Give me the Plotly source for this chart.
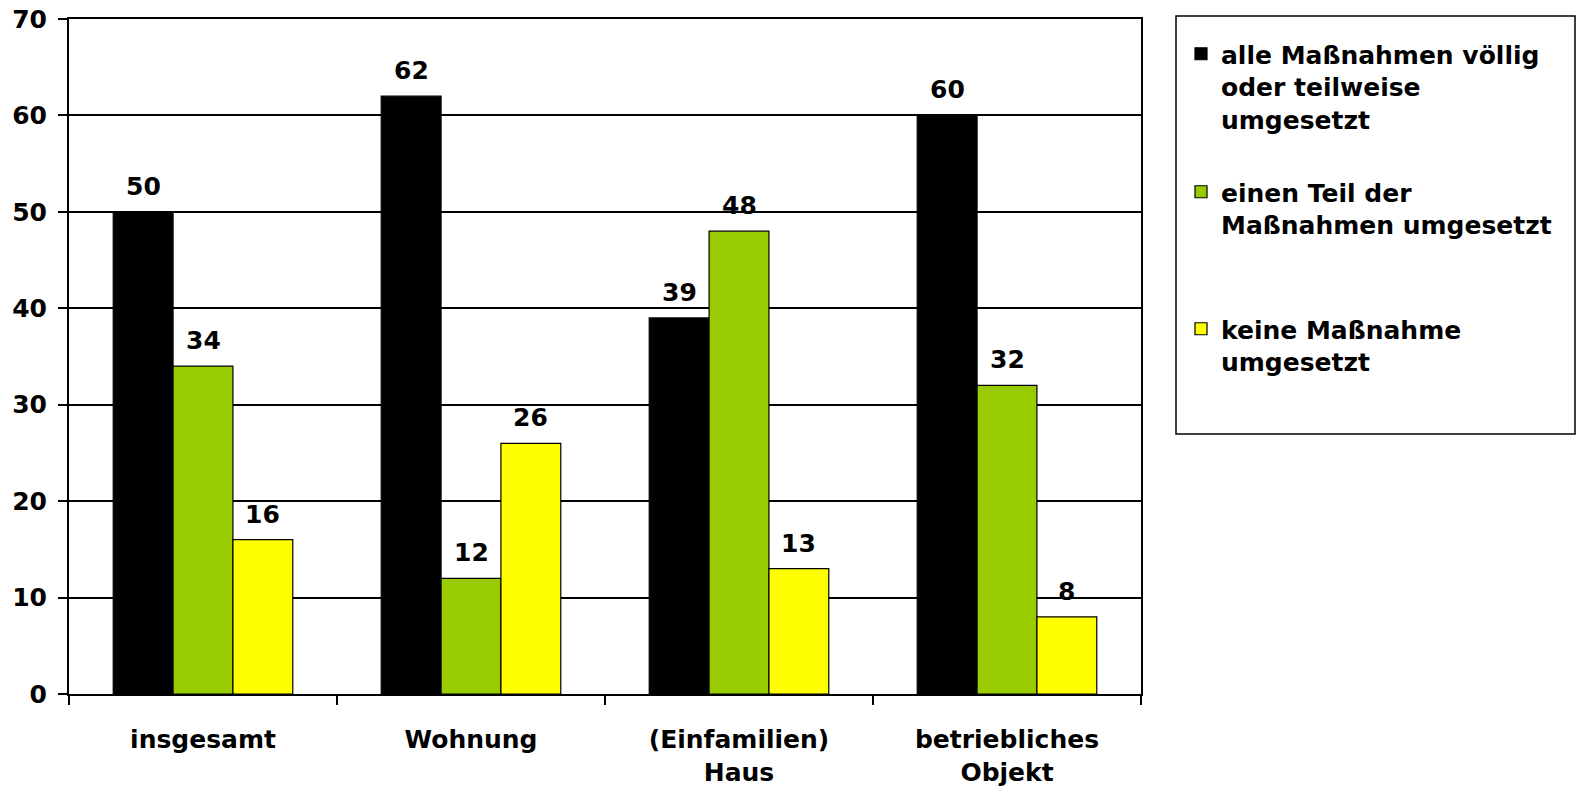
import plotly.graph_objects as go

categories = ["insgesamt", "Wohnung", "(Einfamilien)<br>Haus", "betriebliches<br>Objekt"]
series_names = [
    "alle Maßnahmen völlig<br>oder teilweise<br>umgesetzt",
    "einen Teil der<br>Maßnahmen umgesetzt",
    "keine Maßnahme<br>umgesetzt",
]
series_values = [
    [50, 62, 39, 60],
    [34, 12, 48, 32],
    [16, 26, 13, 8],
]
series_colors = ["#000000", "#99CC00", "#FFFF00"]
y_ticks = [0, 10, 20, 30, 40, 50, 60, 70]

FONT = "DejaVu Sans"
FS = 25
BARGAP = 0.33

W, H = 1582, 788
L, R, T, B = 69, W - 1141, 19, H - 694
pw, ph = W - L - R, H - T - B

fig = go.Figure()
legend_ids = ["legend", "legend2", "legend3"]
for j, (name, vals, col) in enumerate(zip(series_names, series_values, series_colors)):
    fig.add_trace(go.Bar(
        x=categories, y=vals, name=name,
        marker=dict(color=col, line=dict(color="#000000", width=1.2)),
        legend=legend_ids[j],
        hoverinfo="skip",
    ))

# data labels
n = len(series_values)
w = (1 - BARGAP) / n
for j, vals in enumerate(series_values):
    for i, v in enumerate(vals):
        fig.add_annotation(
            x=i + (j - (n - 1) / 2) * w, y=v, xref="x", yref="y",
            text=f"<b>{v}</b>", showarrow=False, yanchor="bottom",
            yshift=9, font=dict(family=FONT, size=FS, color="#000"),
        )

def px_x(p):
    return (p - L) / pw

def px_y(p):
    return (H - B - p) / ph

# legend frame
fig.add_shape(type="rect", xref="paper", yref="paper",
              x0=px_x(1176), x1=px_x(1575), y0=px_y(434), y1=px_y(16),
              line=dict(color="#000", width=1.5), fillcolor="rgba(0,0,0,0)")

legend_tops = [31, 169, 306]
leg_common = dict(
    font=dict(family=FONT, size=FS, color="#000", weight="bold"),
    bgcolor="rgba(0,0,0,0)", borderwidth=0, valign="top",
    xanchor="left", yanchor="top", xref="container", yref="container",
)
for lid, top in zip(legend_ids, legend_tops):
    fig.update_layout(**{lid: dict(x=1181 / W, y=1 - top / H, **leg_common)})

fig.update_layout(
    width=W, height=H,
    margin=dict(l=L, r=R, t=T, b=B, pad=0, autoexpand=False),
    paper_bgcolor="white", plot_bgcolor="white",
    barmode="group", bargap=BARGAP, bargroupgap=0,
    showlegend=True,
    font=dict(family=FONT, size=FS, color="#000"),
    xaxis=dict(
        type="category", tickson="boundaries", ticks="outside", ticklen=9,
        tickwidth=2, tickcolor="#000", showline=True, linecolor="#000",
        linewidth=2, mirror=True, showgrid=False,
        tickfont=dict(family=FONT, size=FS, color="#000", weight="bold"),
        ticklabelstandoff=22, ticklabeloverflow="allow",
    ),
    yaxis=dict(
        range=[0, 70], tickvals=y_ticks, ticks="outside", ticklen=9,
        tickwidth=2, tickcolor="#000", showline=True, linecolor="#000",
        linewidth=2, mirror=True, showgrid=True, gridcolor="#000",
        gridwidth=1.5, zeroline=False,
        tickfont=dict(family=FONT, size=FS, color="#000", weight="bold"),
        ticklabelstandoff=6, ticklabeloverflow="allow",
    ),
)

fig.write_html("out.html", config={"displayModeBar": False},
               post_script="document.body.style.margin='0';")
